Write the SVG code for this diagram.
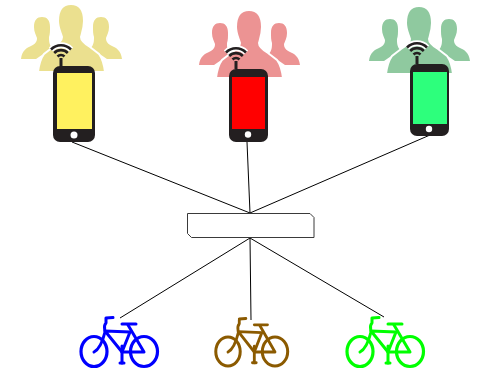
<svg xmlns="http://www.w3.org/2000/svg" width="477" height="374" viewBox="0 0 477 374">
<style>
.body{fill:#231f20}
.btn{fill:#fff}
.wifi{fill:none;stroke:#231f20;stroke-width:2.600}
.halo{fill:none;stroke:#fff;stroke-width:6}
.conn{stroke:#000;stroke-width:1;fill:none}
.box{fill:#fff;stroke:#3a3a3a;stroke-width:1}
.tube{fill:none;stroke:currentColor;stroke-width:3;stroke-linecap:round;stroke-linejoin:round}
.wheel{fill:none;stroke:currentColor;stroke-width:3.200}
</style>
<defs>
<g id="crowd">
<path d="M42 17C37 17 34 20 34 27C34 32 36 35 37 38C37 42 35 44 31 46C27 48 22 50 21 59L36 59L52 48C49 44 49 41 49 37C50 34 50 31 50 27C50 20 47 17 42 17Z"/>
<path d="M101 17C106 17 109 20 109 27C109 32 107 35 106 38C106 42 108 44 112 46C116 48 121 50 122 59L107 59L91 48C94 44 94 41 94 37C93 34 93 31 93 27C93 20 96 17 101 17Z"/>
<path d="M71 4C62 4 58 10 58 21C58 28 61 33 62 37C62 41 58 44 53 47L44 54C41 58 39 64 38 72L105 72C104 64 102 58 99 54L90 47C85 44 81 41 81 37C82 33 84 28 84 21C84 10 80 4 71 4Z" stroke="#fff" stroke-width="2"/>
</g>
<g id="wifi">
<path class="halo" d="M-10 -12.500A14 14 0 0 1 10 -12.500"/>
<path class="wifi" d="M-10 -12.500A14 14 0 0 1 10 -12.500" stroke-width="3.200"/>
<path class="wifi" d="M-6.800 -9A9.500 9.500 0 0 1 6.800 -9"/>
<path class="wifi" d="M-3.500 -5.500A5 5 0 0 1 3.500 -5.500"/>
<rect x="-1.500" y="-4" width="3" height="8" fill="#231f20"/>
</g>
<g id="bike">
<ellipse class="wheel" cx="94" cy="351.500" rx="13" ry="15"/>
<ellipse class="wheel" cx="144" cy="351.500" rx="13.500" ry="15"/>
<path class="tube" d="M106 319L106 323C103 326 105 329 105 332C103 340 100 349 94 352"/>
<path class="tube" d="M106 318L113 317.500" stroke-width="2.200"/>
<path class="tube" d="M105 331L130 332L122 352L105 331Z"/>
<path class="tube" d="M128 325L144 352L122 352" stroke-width="2.500"/>
<path class="tube" d="M122 324L136 324" stroke-width="3"/>
<path class="tube" d="M122 346L122 363" stroke-width="2.500"/>
<path class="tube" d="M120 363L124 363" stroke-width="2"/>
</g>
</defs>
<g id="connectors">
<path class="conn" d="M72 142L250 213"/>
<path class="conn" d="M247 142L250 213"/>
<path class="conn" d="M430 135L250 213"/>
<path class="conn" d="M250 238L120 318"/>
<path class="conn" d="M250 238L251 320"/>
<path class="conn" d="M250 238L384 317"/>
</g>
<g id="user-group-1">
<use href="#crowd" fill="#ebe08f"/>
<use href="#wifi" x="61" y="62"/>
<rect class="body" x="53" y="66" width="42" height="76" rx="7"/>
<rect x="57" y="73" width="35" height="56" fill="#fff15f"/>
<circle class="btn" cx="74" cy="135" r="3.500"/>
</g>
<g id="user-group-2">
<use href="#crowd" x="178" y="6" fill="#ec9393"/>
<use href="#wifi" x="236" y="65"/>
<rect class="body" x="229" y="69" width="39" height="73" rx="7"/>
<rect x="232" y="77" width="33" height="52" fill="#ff0000"/>
<circle class="btn" cx="248" cy="134.500" r="3.200"/>
</g>
<g id="user-group-3">
<use href="#crowd" x="348" y="2" fill="#8fc99f"/>
<use href="#wifi" x="417" y="60"/>
<rect class="body" x="410" y="64" width="39" height="72" rx="7"/>
<rect x="413" y="72" width="34" height="52" fill="#2dff7c"/>
<circle class="btn" cx="429" cy="129" r="3.200"/>
</g>
<g id="gateway">
<path class="box" d="M187.500 213.500L310 213.500L314 217.500L314 237.500L191.500 237.500L187.500 233.500Z"/>
</g>
<g id="bike-1" color="#0000ff">
<use href="#bike"/>
</g>
<g id="bike-2" color="#8b5a00">
<use href="#bike" transform="translate(228 352) scale(.94 .97) translate(-94 -352)"/>
</g>
<g id="bike-3" color="#00ff00">
<use href="#bike" transform="translate(266 0)"/>
</g>
</svg>
